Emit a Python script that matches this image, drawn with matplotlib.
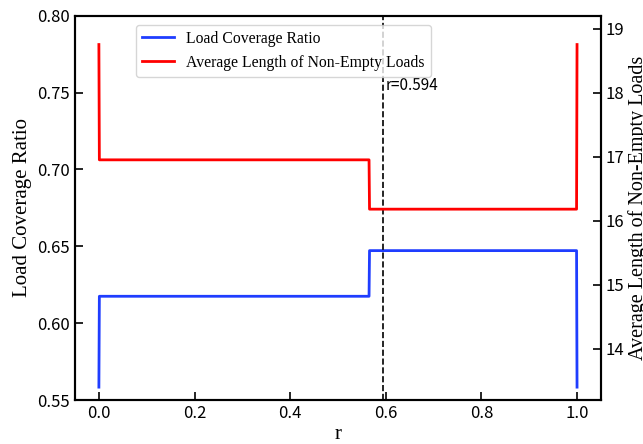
import matplotlib
matplotlib.use("Agg")
import matplotlib.pyplot as plt
from matplotlib.ticker import FormatStrFormatter

# ===== 数据 =====
r_values = [0.0, 0.001, 0.565, 0.566, 0.999, 1.0]
coverage_ratio = [0.5584, 0.6175, 0.6175, 0.6472, 0.6472, 0.5584]
avg_length = [18.75, 16.95, 16.95, 16.18, 16.18, 18.75]
r_best = 0.594

SERIF = ["Liberation Serif", "DejaVu Serif"]
TICKFONT = ["Noto Sans CJK SC", "DejaVu Sans"]
plt.rcParams["font.family"] = TICKFONT

fig = plt.figure(figsize=(6.43, 4.44), dpi=100)
ax1 = fig.add_axes([0.1166, 0.099, 0.818, 0.8656])
ax2 = ax1.twinx()

l1, = ax1.plot(r_values, coverage_ratio, color="#1f3dff", lw=2.0, label="Load Coverage Ratio")
l2, = ax2.plot(r_values, avg_length, color="red", lw=2.0, label="Average Length of Non-Empty Loads")

ax1.axvline(r_best, color="black", ls="--", lw=1.2)
ax1.text(r_best + 0.005, 0.7545, f"r={r_best}", fontsize=11, va="center", ha="left")

ax1.set_xlim(-0.05, 1.05)
ax1.set_ylim(0.55, 0.80)
ax2.set_ylim(13.2, 19.2)
ax1.set_xticks([0.0, 0.2, 0.4, 0.6, 0.8, 1.0])
ax1.set_yticks([0.55, 0.60, 0.65, 0.70, 0.75, 0.80])
ax2.set_yticks([14, 15, 16, 17, 18, 19])
ax1.xaxis.set_major_formatter(FormatStrFormatter("%.1f"))
ax1.yaxis.set_major_formatter(FormatStrFormatter("%.2f"))

for ax in (ax1, ax2):
    ax.tick_params(direction="in", length=6, width=1.2, labelsize=12)
    for sp in ax.spines.values():
        sp.set_linewidth(1.5)

ax1.set_xlabel("r", fontsize=15, family=SERIF, labelpad=2)
ax1.set_ylabel("Load Coverage Ratio", fontsize=15, family=SERIF)
ax2.set_ylabel("Average Length of Non-Empty Loads", fontsize=14.5, family=SERIF, labelpad=2.5)

ax1.legend(handles=[l1, l2], loc="upper left", bbox_to_anchor=(0.116, 0.977),
           borderaxespad=0, prop={"family": SERIF, "size": 11.3})

fig.savefig("out.png", dpi=100)
